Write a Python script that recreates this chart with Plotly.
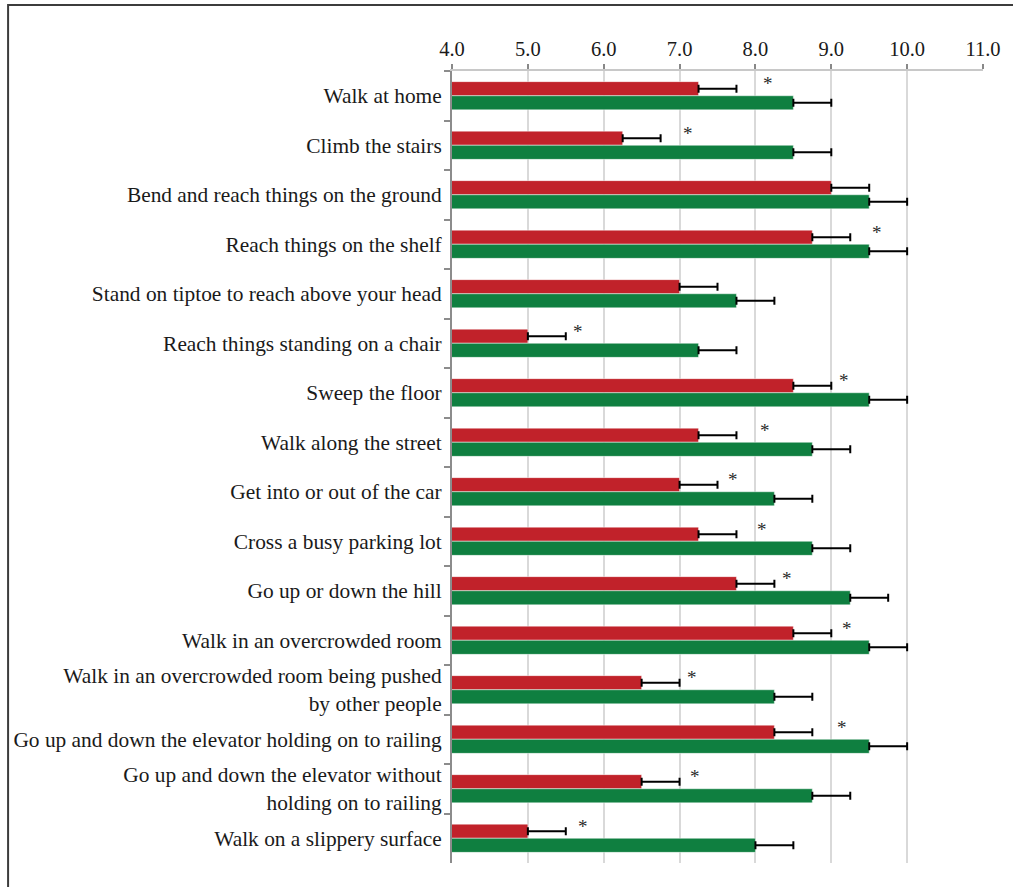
import plotly.graph_objects as go

categories = [
    "Walk at home",
    "Climb the stairs",
    "Bend and reach things on the ground",
    "Reach things on the shelf",
    "Stand on tiptoe to reach above your head",
    "Reach things standing on a chair",
    "Sweep the floor",
    "Walk along the street",
    "Get into or out of the car",
    "Cross a busy parking lot",
    "Go up or down the hill",
    "Walk in an overcrowded room",
    "Walk in an overcrowded room being pushed<br>by other people",
    "Go up and down the elevator holding on to railing",
    "Go up and down the elevator without<br>holding on to railing",
    "Walk on a slippery surface",
]
red_values = [7.25, 6.25, 9.0, 8.75, 7.0, 5.0, 8.5, 7.25, 7.0, 7.25, 7.75, 8.5, 6.5, 8.25, 6.5, 5.0]
green_values = [8.5, 8.5, 9.5, 9.5, 7.75, 7.25, 9.5, 8.75, 8.25, 8.75, 9.25, 9.5, 8.25, 9.5, 8.75, 8.0]
red_err = [0.5] * 16
green_err = [0.5] * 16
star_x = [8.17, 7.11, None, 9.6, None, 5.66, 9.17, 8.13, 7.7, 8.09, 8.42, 9.21, 7.16, 9.14, 7.2, 5.73]
tick_vals = [4, 5, 6, 7, 8, 9, 10, 11]
tick_text = ["4.0", "5.0", "6.0", "7.0", "8.0", "9.0", "10.0", "11.0"]

RED = "#C1222A"
GREEN = "#0F7F40"
FONT = "Liberation Serif, Times New Roman, serif"

fig = go.Figure()
fig.add_trace(go.Bar(
    y=categories, x=red_values, orientation="h", marker_color=RED,
    marker_line=dict(color="rgba(255,255,255,0.6)", width=0.8),
    error_x=dict(type="data", symmetric=False, array=red_err, arrayminus=[0] * 16,
                 color="black", thickness=2, width=4),
    showlegend=False,
))
fig.add_trace(go.Bar(
    y=categories, x=green_values, orientation="h", marker_color=GREEN,
    marker_line=dict(color="rgba(255,255,255,0.6)", width=0.8),
    error_x=dict(type="data", symmetric=False, array=green_err, arrayminus=[0] * 16,
                 color="black", thickness=2, width=4),
    showlegend=False,
))

for cat, sx in zip(categories, star_x):
    if sx is None:
        continue
    fig.add_annotation(x=sx, y=cat, text="*", showarrow=False,
                       font=dict(family=FONT, size=19, color="#2a2a2a"),
                       yshift=12, xanchor="center", yanchor="middle")

# outer frame
fig.add_shape(type="rect", xref="paper", yref="paper",
              x0=-0.836, x1=1.3, y0=-0.3, y1=1.0834,
              line=dict(color="#3c3c3c", width=2), fillcolor="rgba(0,0,0,0)", layer="below")

fig.update_layout(
    width=1013, height=887,
    margin=dict(l=452, r=30, t=71, b=24),
    plot_bgcolor="white", paper_bgcolor="white",
    barmode="group", bargap=0.43, bargroupgap=0,
    font=dict(family=FONT, size=21, color="#1a1a1a"),
    xaxis=dict(
        side="top", range=[4, 11], tickvals=tick_vals, ticktext=tick_text,
        showgrid=True, gridcolor="#d9d9d9", gridwidth=2,
        showline=True, linecolor="#c8c8c8", linewidth=2,
        ticks="outside", ticklen=5, tickcolor="#888", tickwidth=2,
        tickfont=dict(family=FONT, size=20.5, color="#1a1a1a"),
        zeroline=False, fixedrange=True,
    ),
    yaxis=dict(
        autorange="reversed", type="category",
        showline=True, linecolor="#8c8c8c", linewidth=2,
        ticks="outside", tickson="boundaries", ticklen=6, tickcolor="#8c8c8c", tickwidth=2,
        showgrid=False, ticklabelstandoff=4,
        tickfont=dict(family=FONT, size=21.4, color="#1a1a1a"),
    ),
)

fig.write_html("out.html")
